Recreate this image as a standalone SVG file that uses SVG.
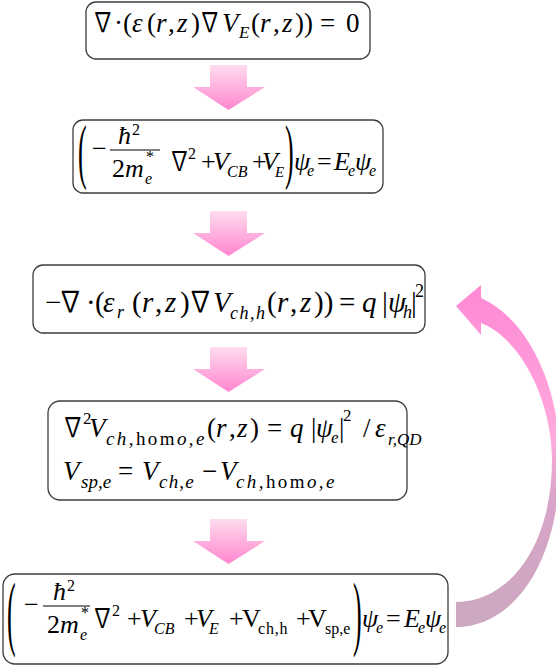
<svg xmlns="http://www.w3.org/2000/svg" width="556" height="667" viewBox="0 0 556 667">
<defs>
<linearGradient id="gDown" x1="0" y1="0" x2="0" y2="1">
<stop offset="0" stop-color="#ffdcee"/>
<stop offset="1" stop-color="#ff86cf"/>
</linearGradient>
<linearGradient id="gCurve" x1="0" y1="0" x2="0" y2="1">
<stop offset="0" stop-color="#ff88d4"/>
<stop offset="0.45" stop-color="#ffaadd"/>
<stop offset="0.62" stop-color="#d8a4c8"/>
<stop offset="1" stop-color="#cca8c0"/>
</linearGradient>
<path id="down" d="M17,0 H54 V22 H72 L35.5,45 L0,22 H17 Z"/>
</defs>
<style>
.box{fill:#ffffff;stroke:#3c3c3c;stroke-width:1.3}
.i{font-style:italic}
.n{font-family:"Noto Sans CJK JP","DejaVu Serif",sans-serif;font-weight:normal}
.f27{font-size:27px}
.f26{font-size:26px}
.f29{font-size:29px}
.s15{font-size:15px}
.s16{font-size:16px}
.s17{font-size:17px}
.s18{font-size:18px}
.s19{font-size:19px}
.bar{stroke:#000;stroke-width:1.2}
</style>

<g id="connectors">
<use href="#down" x="193" y="65" fill="url(#gDown)"/>
<use href="#down" x="193" y="211" fill="url(#gDown)"/>
<use href="#down" x="193" y="347" fill="url(#gDown)"/>
<use href="#down" x="193" y="519" fill="url(#gDown)"/>
<path id="loop" fill="url(#gCurve)" d="M456,627 C515,627 560,560 560,460 C560,390 530,320 481,298 L481,285 L456,306 L481,335 L481,323 C520,338 552,400 552,460 C552,545 510,602 456,602 Z"/>
</g>

<g font-family="'Liberation Serif', serif" fill="#000">
<g id="node1">
<rect class="box" x="86" y="2" width="284" height="57" rx="10"/>
<g class="f27">
<text class="n" transform="translate(92,32) scale(0.8,1)">∇</text>
<text x="114" y="32">·</text>
<text x="123" y="32">(</text>
<text x="132" y="32" class="i">ε</text>
<text x="147" y="32">(</text>
<text x="156" y="32" class="i">r</text>
<text x="168" y="32">,</text>
<text x="177" y="32" class="i">z</text>
<text x="191" y="32">)</text>
<text class="n" transform="translate(199,32) scale(0.8,1)">∇</text>
<text x="222" y="32" class="i">V</text>
<text x="239" y="38" class="i s17">E</text>
<text x="251" y="32">(</text>
<text x="260" y="32" class="i">r</text>
<text x="273" y="32">,</text>
<text x="282" y="32" class="i">z</text>
<text x="295" y="32">))</text>
<text x="320" y="32">=</text>
<text x="346" y="32">0</text>
</g>
</g>

<g id="node2">
<rect class="box" x="73" y="120" width="310" height="73" rx="10"/>
<g class="f26">
<text transform="translate(78,174.6) scale(1,2.75)">(</text>
<text x="92" y="157">−</text>
<text x="118" y="144" class="i">ħ</text>
<text x="132" y="135" class="s16">2</text>
<line class="bar" x1="110" y1="150" x2="160" y2="150"/>
<text x="112" y="177">2</text>
<text x="125" y="177" class="i">m</text>
<text x="145" y="184" class="i s16">e</text>
<text x="146" y="162" class="s16">*</text>
<text class="n" transform="translate(169,170) scale(0.8,1)">∇</text>
<text x="188" y="159" class="s16">2</text>
<text x="201" y="170">+</text>
<text x="213" y="170" class="i">V</text>
<text x="227" y="177" class="i s16">CB</text>
<text x="252" y="170">+</text>
<text x="262" y="170" class="i">V</text>
<text x="275" y="177" class="i s15">E</text>
<text transform="translate(285,174.6) scale(1,2.75)">)</text>
<text x="294" y="170" class="i">ψ</text>
<text x="307" y="176" class="i s16">e</text>
<text x="317" y="170">=</text>
<text x="334" y="170" class="i">E</text>
<text x="348" y="176" class="i s16">e</text>
<text x="355" y="170" class="i">ψ</text>
<text x="369" y="176" class="i s16">e</text>
</g>
</g>

<g id="node3">
<rect class="box" x="33" y="265" width="392" height="68" rx="10"/>
<g class="f29">
<text x="45" y="312">−</text>
<text class="n" transform="translate(58,312) scale(0.85,1)">∇</text>
<text x="86" y="312">·</text>
<text x="95" y="312">(</text>
<text x="103" y="312" class="i">ε</text>
<text x="117" y="318" class="i s18">r</text>
<text x="132" y="312">(</text>
<text x="142" y="312" class="i">r</text>
<text x="155" y="312">,</text>
<text x="165" y="312" class="i">z</text>
<text x="180" y="312">)</text>
<text class="n" transform="translate(188,312) scale(0.85,1)">∇</text>
<text x="213" y="312" class="i">V</text>
<text x="230" y="319" class="i s18" style="letter-spacing:1.5px">ch,h</text>
<text x="267" y="312">(</text>
<text x="277" y="312" class="i">r</text>
<text x="290" y="312">,</text>
<text x="300" y="312" class="i">z</text>
<text x="314" y="312">))</text>
<text x="339" y="312">=</text>
<text x="362" y="312" class="i">q</text>
<text x="382" y="312">|</text>
<text x="388" y="312" class="i">ψ</text>
<text x="403" y="318" class="i s18">h</text>
<text x="411" y="312">|</text>
<text x="415" y="297" class="s18">2</text>
</g>
</g>

<g id="node4">
<rect class="box" x="48" y="401" width="359" height="99" rx="12"/>
<g class="f27">
<text class="n" transform="translate(62,437) scale(0.8,1)">∇</text>
<text x="83" y="424" class="s17">2</text>
<text x="89" y="437" class="i">V</text>
<text x="106" y="445" class="s19" style="letter-spacing:2.4px"><tspan class="i">ch,</tspan>hom<tspan class="i">o,e</tspan></text>
<text x="207" y="437">(</text>
<text x="216" y="437" class="i">r</text>
<text x="229" y="437">,</text>
<text x="237" y="437" class="i">z</text>
<text x="250" y="437">)</text>
<text x="267" y="437">=</text>
<text x="290" y="437" class="i">q</text>
<text x="311" y="437">|</text>
<text x="316" y="437" class="i">ψ</text>
<text x="331" y="443" class="i s17">e</text>
<text x="339" y="437">|</text>
<text x="343" y="421" class="s17">2</text>
<text x="363" y="437">/</text>
<text x="375" y="437" class="i">ε</text>
<text x="388" y="445" class="i s17">r,QD</text>
<text x="63" y="480" class="i">V</text>
<text x="81" y="488" class="i s19">sp,e</text>
<text x="118" y="480">=</text>
<text x="142" y="480" class="i">V</text>
<text x="159" y="488" class="i s19" style="letter-spacing:1.2px">ch,e</text>
<text x="202" y="480">−</text>
<text x="220" y="480" class="i">V</text>
<text x="236" y="488" class="s19" style="letter-spacing:2.4px"><tspan class="i">ch,</tspan>hom<tspan class="i">o,e</tspan></text>
</g>
</g>

<g id="node5">
<rect class="box" x="3" y="574" width="445" height="90" rx="12"/>
<g class="f26">
<text transform="translate(7,639.6) scale(1,3.2)">(</text>
<text x="24" y="613">−</text>
<text x="53" y="600" class="i">ħ</text>
<text x="67" y="591" class="s16">2</text>
<line class="bar" x1="43" y1="606" x2="90" y2="606"/>
<text x="47" y="633">2</text>
<text x="60" y="633" class="i">m</text>
<text x="80" y="640" class="i s16">e</text>
<text x="81" y="618" class="s16">*</text>
<text class="n" transform="translate(92,627) scale(0.8,1)">∇</text>
<text x="112" y="616" class="s16">2</text>
<text x="127" y="627">+</text>
<text x="140" y="627" class="i">V</text>
<text x="154" y="634" class="i s16">CB</text>
<text x="184" y="627">+</text>
<text x="196" y="627" class="i">V</text>
<text x="209" y="634" class="i s16">E</text>
<text x="229" y="627">+</text>
<text x="242" y="627">V</text>
<text x="258" y="634" class="s16" style="letter-spacing:0.8px">ch,h</text>
<text x="296" y="627">+</text>
<text x="308" y="627">V</text>
<text x="325" y="634" class="s16">sp,e</text>
<text transform="translate(353,639.6) scale(1,3.2)">)</text>
<text x="362" y="627" class="i">ψ</text>
<text x="376" y="633" class="i s16">e</text>
<text x="386" y="627">=</text>
<text x="404" y="627" class="i">E</text>
<text x="418" y="633" class="i s16">e</text>
<text x="425" y="627" class="i">ψ</text>
<text x="439" y="633" class="i s16">e</text>
</g>
</g>
</g>
</svg>
